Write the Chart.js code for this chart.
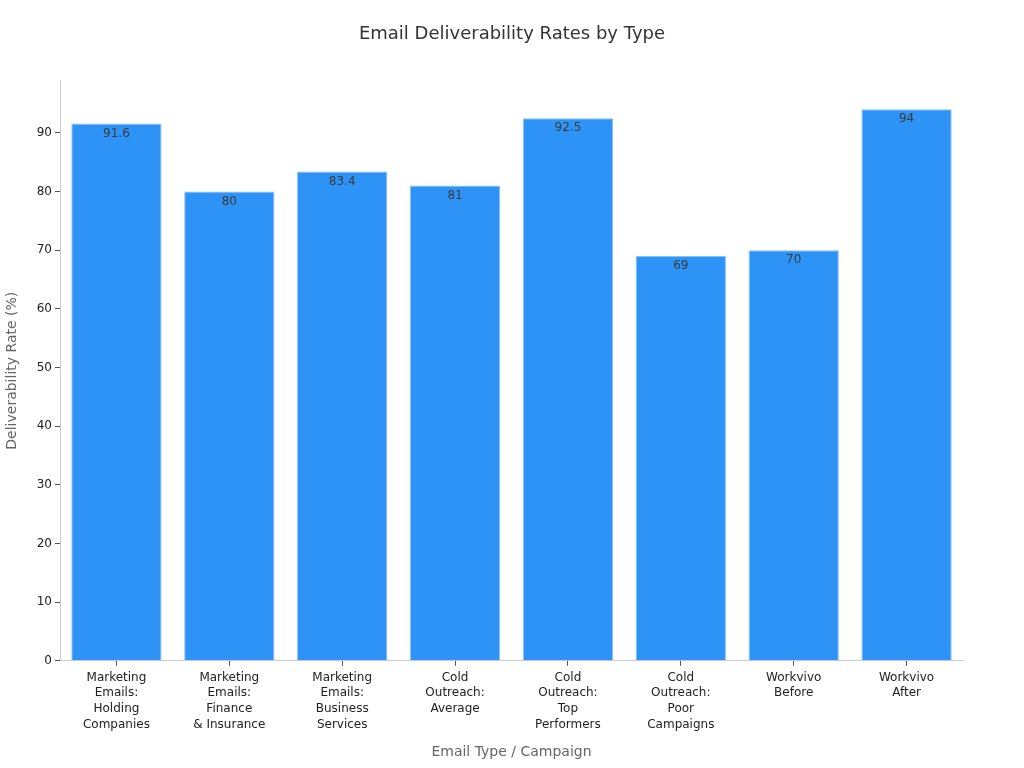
<!DOCTYPE html>
<html>
<head>
<meta charset="utf-8">
<script src="https://cdn.jsdelivr.net/npm/chart.js@4/dist/chart.umd.min.js"></script>
<style>
  body{margin:0;background:#fff;}
  canvas{display:block;}
</style>
</head>
<body>
<canvas id="myChart" width="1024" height="768"></canvas>
<script>
var categories=[
    ["Marketing","Emails:","Holding","Companies"],
    ["Marketing","Emails:","Finance","& Insurance"],
    ["Marketing","Emails:","Business","Services"],
    ["Cold","Outreach:","Average"],
    ["Cold","Outreach:","Top","Performers"],
    ["Cold","Outreach:","Poor","Campaigns"],
    ["Workvivo","Before"],
    ["Workvivo","After"]
]
var rates=[91.6,80,83.4,81,92.5,69,70,94]
var yTicks=[0,10,20,30,40,50,60,70,80,90]

Chart.defaults.font.family="'DejaVu Sans', sans-serif"

// labels inside the top of each bar
var barLabels={
    id:'barLabels',
    afterDatasetsDraw:function(chart){
        var ctx=chart.ctx
        var meta=chart.getDatasetMeta(0)
        ctx.save()
        ctx.font="12px 'DejaVu Sans', sans-serif"
        ctx.fillStyle="#3a3a3a"
        ctx.textAlign="center"
        ctx.textBaseline="top"
        meta.data.forEach(function(bar,i){
            ctx.fillText(String(rates[i]),bar.x,bar.y+4)
        })
        ctx.restore()
    }
}

var myChart=document.getElementById("myChart").getContext('2d')
var chart=new Chart(myChart,{
    type:'bar',
    data:{
        labels:categories,
        datasets:[{
            label:"Deliverability Rate",
            data:rates,
            backgroundColor:"#2E93F7",
            borderColor:"#8CC2F8",
            borderWidth:1,
            categoryPercentage:0.8,
            barPercentage:1
        }]
    },
    options:{
        responsive:false,
        animation:false,
        layout:{padding:{top:0,right:0,bottom:3,left:0}},
        plugins:{
            legend:{display:false},
            tooltip:{enabled:false},
            title:{
                display:true,
                text:"Email Deliverability Rates by Type",
                color:"#333",
                font:{size:18,weight:'normal'},
                padding:{top:24,bottom:35}
            }
        },
        scales:{
            x:{
                grid:{drawOnChartArea:false,drawTicks:true,tickLength:5,color:"#555",offset:false},
                border:{display:true,color:"#ccc"},
                ticks:{color:"#222",font:{size:12,lineHeight:1.3},maxRotation:0,autoSkip:false,padding:4},
                title:{display:true,text:"Email Type / Campaign",color:"#666",font:{size:14},padding:{top:8}}
            },
            y:{
                min:0,
                max:98.9,
                afterBuildTicks:function(axis){
                    axis.ticks=yTicks.map(function(v){return {value:v}})
                },
                afterFit:function(axis){axis.width=60},
                grid:{drawOnChartArea:false,drawTicks:true,tickLength:5,color:"#555"},
                border:{display:true,color:"#ccc"},
                ticks:{color:"#222",font:{size:12},padding:3},
                title:{display:true,text:"Deliverability Rate (%)",color:"#666",font:{size:14},padding:{bottom:8}}
            },
            // empty right margin so the title stays centred on the page
            yRight:{
                position:'right',
                display:true,
                afterFit:function(axis){axis.width=61},
                grid:{display:false},
                border:{display:false},
                ticks:{display:false}
            }
        }
    },
    plugins:[barLabels]
})
</script>
</body>
</html>
